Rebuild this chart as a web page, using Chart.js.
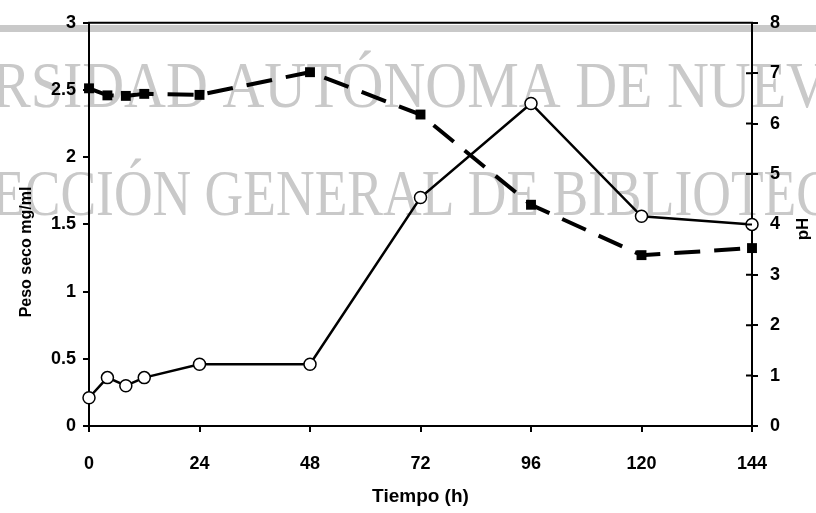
<!DOCTYPE html>
<html>
<head>
<meta charset="utf-8">
<script src="https://cdn.jsdelivr.net/npm/chart.js@4.4.0/dist/chart.umd.min.js"></script>
<style>
  html, body { margin: 0; padding: 0; background: #fff; }
  canvas { display: block; }
</style>
</head>
<body>
<canvas id="grafica" width="816" height="513"></canvas>
<script>
// tiempo de muestreo (h)
const horas = [0, 4, 8, 12, 24, 48, 72, 96, 120, 144];
// peso seco mg/ml (circulos abiertos)
const pesoSeco = [0.21, 0.36, 0.30, 0.36, 0.46, 0.46, 1.70, 2.40, 1.56, 1.50];
// pH (cuadros negros)
const valoresPH = [6.70, 6.56, 6.55, 6.59, 6.57, 7.02, 6.18, 4.39, 3.39, 3.53];

const ticksTiempo = [0, 24, 48, 72, 96, 120, 144];
const ticksPeso = [0, 0.5, 1, 1.5, 2, 2.5, 3];
const ticksPH = [0, 1, 2, 3, 4, 5, 6, 7, 8];

const fuente = 'Liberation Sans, Arial, sans-serif';

// fondo escaneado: marca de agua y franja gris
const fondo = {
	id: 'fondo',
	beforeDraw(chart) {
		const c = chart.ctx;
		c.save();
		c.fillStyle = '#fff';
		c.fillRect(0, 0, chart.width, chart.height);
		c.fillStyle = '#c9c9c9';
		c.fillRect(0, 25, chart.width, 7);
		c.font = '66px "Liberation Serif", "Times New Roman", serif';
		c.textBaseline = 'alphabetic';
		c.fillText('RSIDAD AUTÓNOMA DE NUEV', -8, 107, 836);
		c.fillText('ECCIÓN GENERAL DE BIBLIOTEC', -8, 215, 840);
		c.restore();
	}
};

// marco, ticks cruzados del eje pH y titulos verticales
const marco = {
	id: 'marco',
	afterDraw(chart) {
		const c = chart.ctx;
		const a = chart.chartArea;
		const y1 = chart.scales.y1;
		c.save();
		c.strokeStyle = '#000';
		c.lineWidth = 2;
		c.beginPath();
		c.moveTo(a.left - 1, a.top);
		c.lineTo(a.right + 1, a.top);
		ticksPH.forEach(function (v) {
			const py = y1.getPixelForValue(v);
			c.moveTo(a.right - 6, py);
			c.lineTo(a.right, py);
		});
		c.stroke();

		c.fillStyle = '#000';
		c.font = 'bold 16px ' + fuente;
		c.textAlign = 'center';
		c.textBaseline = 'middle';
		c.translate(27, 252);
		c.rotate(-Math.PI / 2);
		c.fillText('Peso seco mg/ml', 0, 0);
		c.restore();

		c.save();
		c.fillStyle = '#000';
		c.font = 'bold 17px ' + fuente;
		c.textAlign = 'center';
		c.textBaseline = 'middle';
		c.translate(803, 229);
		c.rotate(-Math.PI / 2);
		c.fillText('pH', 0, 0);
		c.restore();
	}
};

const ejeLinea = {
	drawOnChartArea: false,
	drawTicks: true,
	tickLength: 6,
	color: '#000',
	lineWidth: 2
};
const borde = { display: true, color: '#000', width: 2 };
const etiqueta = function (v) { return String(v); };

const ctx = document.getElementById('grafica').getContext('2d');
const grafica = new Chart(ctx, {
	type: 'line',
	data: {
		datasets: [{
			label: 'Peso seco',
			data: horas.map(function (h, i) { return { x: h, y: pesoSeco[i] }; }),
			yAxisID: 'y',
			borderColor: '#000',
			borderWidth: 2.5,
			pointRadius: 6,
			pointBackgroundColor: '#fff',
			pointBorderColor: '#000',
			pointBorderWidth: 1.5,
			tension: 0,
			clip: false
		}, {
			label: 'pH',
			data: horas.map(function (h, i) { return { x: h, y: valoresPH[i] }; }),
			yAxisID: 'y1',
			borderColor: '#000',
			borderWidth: 4,
			borderDash: [26, 14],
			pointStyle: 'rect',
			pointRadius: 7,
			pointBackgroundColor: '#000',
			pointBorderColor: '#000',
			pointBorderWidth: 0,
			tension: 0,
			clip: false
		}]
	},
	options: {
		responsive: false,
		animation: false,
		devicePixelRatio: 1,
		layout: { padding: { top: 20, left: 0, right: 0, bottom: 0 } },
		plugins: {
			legend: { display: false },
			tooltip: { enabled: false }
		},
		scales: {
			x: {
				type: 'linear',
				min: 0,
				max: 144,
				afterBuildTicks: function (s) { s.ticks = ticksTiempo.map(function (v) { return { value: v }; }); },
				afterFit: function (s) { s.height = 87; },
				grid: ejeLinea,
				border: borde,
				ticks: { color: '#000', font: { family: fuente, size: 18, weight: 'bold' }, padding: 21, maxRotation: 0, callback: etiqueta },
				title: { display: true, text: 'Tiempo (h)', color: '#000', font: { family: fuente, size: 19, weight: 'bold' }, padding: { top: 0, bottom: 5 } }
			},
			y: {
				position: 'left',
				min: 0,
				max: 3,
				afterBuildTicks: function (s) { s.ticks = ticksPeso.map(function (v) { return { value: v }; }); },
				afterFit: function (s) { s.width = 89; },
				grid: ejeLinea,
				border: borde,
				ticks: { color: '#000', font: { family: fuente, size: 18, weight: 'bold' }, padding: 7, callback: etiqueta }
			},
			y1: {
				position: 'right',
				min: 0,
				max: 8,
				afterBuildTicks: function (s) { s.ticks = ticksPH.map(function (v) { return { value: v }; }); },
				afterFit: function (s) { s.width = 64; },
				grid: ejeLinea,
				border: borde,
				ticks: { color: '#000', font: { family: fuente, size: 18, weight: 'bold' }, padding: 12, callback: etiqueta }
			}
		}
	},
	plugins: [fondo, marco]
});
</script>
</body>
</html>
